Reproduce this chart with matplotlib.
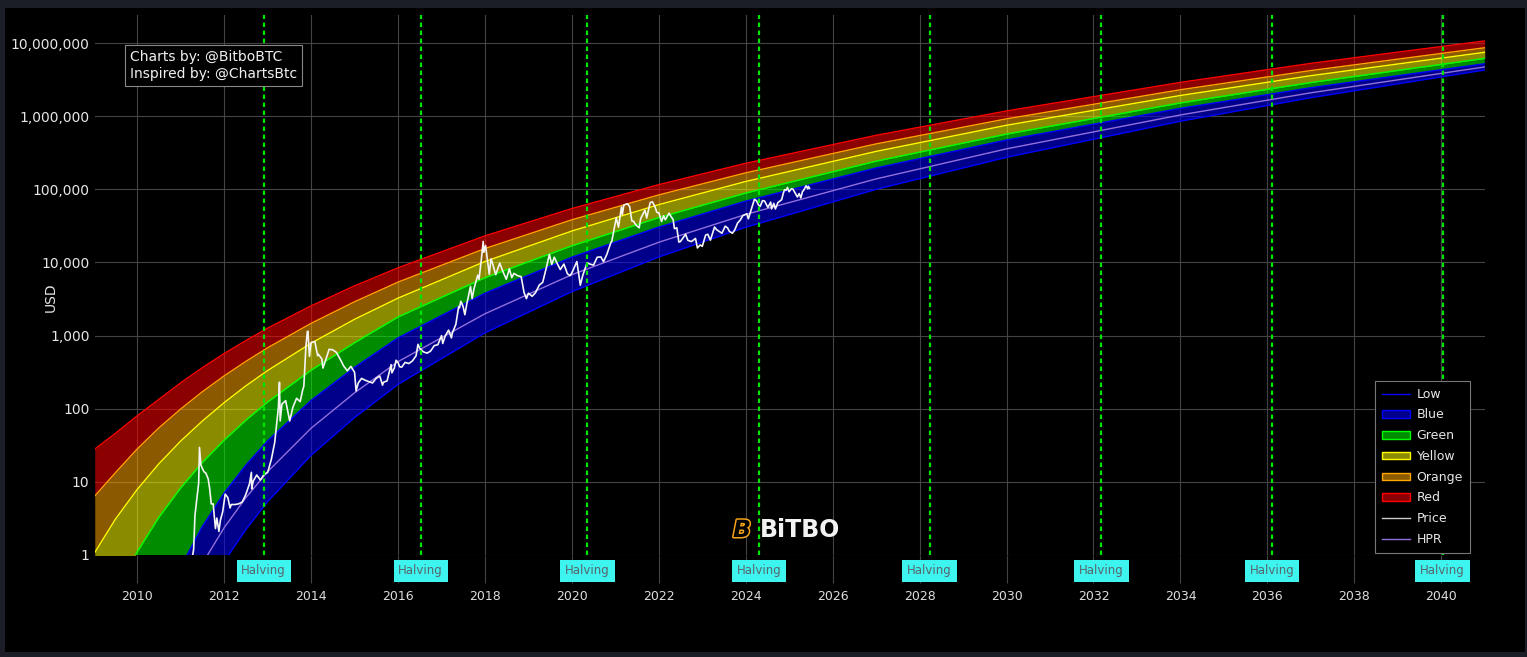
import matplotlib
matplotlib.use('Agg')
import matplotlib.pyplot as plt
import matplotlib.dates as mdates
import matplotlib.patheffects as pe
from matplotlib.lines import Line2D
from matplotlib.patches import Patch, Rectangle
from matplotlib.ticker import FuncFormatter, FixedLocator, NullLocator
from matplotlib.transforms import blended_transform_factory
import pandas as pd

# rainbow band edges (USD)
band_dates = ['2009-01-09', '2009-07-01', '2010-01-01', '2010-07-01', '2011-01-01',
              '2011-07-01', '2012-01-01', '2012-07-01', '2013-01-01', '2014-01-01',
              '2015-01-01', '2016-01-01', '2018-01-01', '2020-01-01', '2022-01-01',
              '2024-01-01', '2027-01-01', '2030-01-01', '2034-01-01', '2037-01-01',
              '2041-01-01']
low = [1.4e-15, 6.0e-6, 6.0e-4, 8.5e-3, 0.057, 0.243, 0.813, 2.22, 5.37, 23.1,
       75.7, 215, 1090, 3990, 11900, 30300, 100000, 274000, 853000, 1790000, 4280000]
blue = [8.7e-13, 2.29e-4, 0.0129, 0.130, 0.687, 2.44, 7.01, 16.9, 36.5, 130,
        368, 930, 3800, 11800, 30500, 69000, 196000, 473000, 1280000, 2450000, 5220000]
green = [0.0569, 0.288, 1.11, 3.27, 8.28, 18.4, 37.2, 69.7, 124, 337,
         800, 1800, 6200, 16900, 41200, 89100, 243000, 570000, 1520000, 2890000, 6180000]
yellow = [1.08, 3.08, 7.89, 17.6, 36.1, 67.6, 121, 205, 333, 787,
          1670, 3250, 10300, 26900, 61800, 128000, 330000, 752000, 1920000, 3580000, 7480000]
orange = [6.4, 13.3, 28.2, 54.5, 99.1, 170, 281, 443, 682, 1470,
          2900, 5380, 15500, 38300, 83900, 168000, 418000, 920000, 2300000, 4210000, 8630000]
red = [28.0, 46.0, 80.0, 134, 226, 363, 568, 853, 1265, 2550,
       4790, 8450, 23100, 54600, 116000, 227000, 548000, 1180000, 2900000, 5280000, 10700000]
hpr = [3.4e-14, 3.6e-5, 2.75e-3, 0.0327, 0.195, 0.759, 2.36, 6.05, 13.8, 54.2,
       165, 440, 1990, 6810, 18900, 45400, 139000, 358000, 1040000, 2090000, 4720000]

# bitcoin price history (USD)
price_dates = [
    '2010-07-17', '2010-10-01', '2010-11-06', '2010-12-01', '2011-01-01', '2011-02-10',
    '2011-03-01', '2011-04-01', '2011-04-20', '2011-05-01', '2011-05-20', '2011-06-01',
    '2011-06-08', '2011-06-20', '2011-07-01', '2011-07-15', '2011-08-01', '2011-08-20',
    '2011-09-01', '2011-09-15', '2011-10-01', '2011-10-20', '2011-11-01', '2011-11-18',
    '2011-12-01', '2011-12-20', '2012-01-01', '2012-01-10', '2012-02-01', '2012-02-20',
    '2012-03-01', '2012-04-01', '2012-05-01', '2012-06-01', '2012-07-01', '2012-08-01',
    '2012-08-17', '2012-08-20', '2012-09-01', '2012-10-01', '2012-11-01', '2012-12-01',
    '2013-01-01', '2013-02-01', '2013-03-01', '2013-04-01', '2013-04-10', '2013-04-16',
    '2013-05-01', '2013-06-01', '2013-07-05', '2013-08-01', '2013-09-01', '2013-10-01',
    '2013-10-20', '2013-11-01', '2013-11-18', '2013-11-30', '2013-12-05', '2013-12-18',
    '2014-01-01', '2014-02-01', '2014-02-25', '2014-03-01', '2014-04-01', '2014-04-10',
    '2014-05-01', '2014-06-01', '2014-07-01', '2014-08-01', '2014-09-01', '2014-10-01',
    '2014-11-01', '2014-12-01', '2015-01-01', '2015-01-14', '2015-02-01', '2015-03-01',
    '2015-04-01', '2015-05-01', '2015-06-01', '2015-07-01', '2015-08-01', '2015-08-24',
    '2015-09-01', '2015-10-01', '2015-11-04', '2015-11-11', '2015-12-01', '2015-12-16',
    '2016-01-01', '2016-01-15', '2016-02-01', '2016-03-01', '2016-04-01', '2016-05-01',
    '2016-06-01', '2016-06-17', '2016-07-01', '2016-08-01', '2016-09-01', '2016-10-01',
    '2016-11-01', '2016-12-01', '2017-01-01', '2017-01-11', '2017-02-01', '2017-03-01',
    '2017-03-25', '2017-04-01', '2017-05-01', '2017-05-25', '2017-06-01', '2017-06-12',
    '2017-07-01', '2017-07-16', '2017-08-01', '2017-09-01', '2017-09-15', '2017-10-01',
    '2017-11-01', '2017-11-12', '2017-12-01', '2017-12-17', '2017-12-22', '2018-01-06',
    '2018-02-06', '2018-02-20', '2018-03-01', '2018-04-01', '2018-05-05', '2018-06-01',
    '2018-06-29', '2018-07-25', '2018-08-14', '2018-09-01', '2018-10-01', '2018-11-01',
    '2018-11-25', '2018-12-15', '2019-01-01', '2019-02-01', '2019-03-01', '2019-04-02',
    '2019-05-01', '2019-06-01', '2019-06-26', '2019-07-16', '2019-08-06', '2019-09-01',
    '2019-09-26', '2019-10-26', '2019-11-25', '2019-12-17', '2020-01-01', '2020-02-12',
    '2020-03-12', '2020-04-01', '2020-05-08', '2020-06-01', '2020-07-01', '2020-08-01',
    '2020-09-01', '2020-09-23', '2020-10-21', '2020-11-25', '2020-12-01', '2021-01-08',
    '2021-01-27', '2021-02-21', '2021-02-28', '2021-03-13', '2021-04-13', '2021-05-01',
    '2021-05-19', '2021-06-01', '2021-06-22', '2021-07-20', '2021-08-01', '2021-09-06',
    '2021-09-21', '2021-10-20', '2021-11-08', '2021-12-01', '2021-12-15', '2022-01-01',
    '2022-01-24', '2022-02-10', '2022-02-24', '2022-03-28', '2022-04-01', '2022-05-01',
    '2022-05-12', '2022-06-01', '2022-06-18', '2022-07-01', '2022-08-14', '2022-09-01',
    '2022-10-01', '2022-11-05', '2022-11-21', '2022-12-15', '2023-01-01', '2023-01-29',
    '2023-02-16', '2023-03-10', '2023-04-14', '2023-05-01', '2023-06-15', '2023-07-13',
    '2023-08-01', '2023-08-17', '2023-09-11', '2023-10-01', '2023-10-24', '2023-11-15',
    '2023-12-08', '2024-01-11', '2024-01-23', '2024-02-15', '2024-03-14', '2024-04-01',
    '2024-04-17', '2024-05-01', '2024-05-21', '2024-06-07', '2024-07-05', '2024-07-29',
    '2024-08-05', '2024-08-24', '2024-09-06', '2024-09-27', '2024-10-29', '2024-11-12',
    '2024-11-22', '2024-12-05', '2024-12-17', '2024-12-30', '2025-01-20', '2025-02-01',
    '2025-02-28', '2025-03-10', '2025-03-25', '2025-04-08', '2025-04-22', '2025-05-01',
    '2025-05-22', '2025-06-05', '2025-06-10', '2025-06-20']
price_usd = [
    0.05, 0.06, 0.39, 0.21, 0.30, 0.95,
    0.90, 0.78, 1.2, 3.5, 6.5, 9.6,
    29.6, 17, 15.4, 13.8, 13.1, 11,
    8.2, 5.0, 5.0, 2.3, 3.2, 2.1,
    3.0, 3.9, 5.3, 6.8, 6.1, 4.4,
    4.9, 4.9, 5.0, 5.3, 6.7, 9.4,
    13.5, 8.0, 10.2, 12.4, 10.6, 12.6,
    13.5, 20.4, 34.5, 104, 230, 68,
    116, 129, 68, 105, 139, 125,
    175, 204, 700, 1130, 1150, 520,
    805, 830, 530, 560, 480, 360,
    450, 650, 640, 590, 480, 385,
    330, 380, 315, 175, 225, 260,
    245, 235, 225, 260, 280, 210,
    230, 240, 400, 310, 360, 460,
    430, 375, 370, 430, 415, 450,
    530, 760, 675, 600, 575, 615,
    730, 750, 1000, 780, 990, 1190,
    930, 1080, 1420, 2500, 2400, 2950,
    2500, 1930, 2700, 4700, 3200, 4400,
    6700, 5900, 10900, 19400, 13800, 17100,
    6900, 11200, 10300, 6800, 9800, 7500,
    5900, 8200, 6200, 7100, 6600, 6400,
    3900, 3200, 3800, 3450, 3850, 4900,
    5350, 8550, 12900, 9400, 11800, 9600,
    8000, 9500, 7000, 6600, 7200, 10300,
    4900, 6600, 9900, 9500, 9200, 11800,
    11900, 10250, 12900, 19000, 19300, 40700,
    30400, 57500, 45200, 61200, 63500, 57800,
    37000, 36700, 32500, 29800, 39800, 51800,
    40600, 66000, 67500, 57000, 48400, 47700,
    36300, 43500, 38300, 47100, 45800, 38500,
    29000, 29800, 19000, 19300, 24300, 20100,
    19300, 21300, 15800, 17400, 16600, 23700,
    24300, 20200, 30500, 28100, 25100, 31400,
    29700, 26600, 25100, 27900, 34500, 37800,
    43800, 46300, 39500, 51900, 73100, 69700,
    61300, 58300, 70100, 69300, 56700, 66800,
    54000, 64200, 53900, 65800, 72300, 88700,
    98900, 97000, 106100, 92700, 102000, 100600,
    84400, 78600, 87500, 76300, 93500, 96500,
    111700, 101500, 110000, 103300]

halving_dates = ['2012-11-28', '2016-07-09', '2020-05-11', '2024-04-20',
                 '2028-03-25', '2032-03-08', '2036-02-09', '2040-01-12']
y_ticks = [1, 10, 100, 1000, 10000, 100000, 1000000, 10000000]

W, H = 1527, 657
fig = plt.figure(figsize=(W / 100, H / 100), dpi=100, facecolor='#1b1e27')
fig.patches.append(Rectangle((5 / W, 5 / H), 1520 / W, 644 / H, transform=fig.transFigure,
                             facecolor='black', edgecolor='none', zorder=-1))
ax = fig.add_axes([95 / W, 102 / H, 1390 / W, 540 / H])
ax.set_facecolor('black')

bd = pd.to_datetime(band_dates)
pdts = pd.to_datetime(price_dates)

# bands: fill between lower and upper edge, line on the upper edge
layers = [(low, blue, '#0000ff'), (blue, green, '#00ff00'), (green, yellow, '#ffff00'),
          (yellow, orange, '#ffa500'), (orange, red, '#ff0000')]
ax.plot(bd, low, color='#0000ff', lw=1, zorder=3)
for lower, upper, col in layers:
    ax.fill_between(bd, lower, upper, color=col, alpha=0.55, lw=0, zorder=2)
    ax.plot(bd, upper, color=col, lw=1, zorder=3)
ax.plot(bd, hpr, color='#9370db', lw=1, zorder=4)
ax.plot(pdts, price_usd, color='#f4f4f4', lw=1.2, zorder=5)

# halving markers
tr = blended_transform_factory(ax.transData, ax.transAxes)
for hd in halving_dates:
    xd = mdates.date2num(pd.Timestamp(hd))
    ax.axvline(xd, color='#00e600', lw=1.6, ls=(0, (2.0, 1.6)), zorder=6)
    ax.text(xd, -0.0296, 'Halving', transform=tr, ha='center', va='center', fontsize=8.5,
            color='#56666c', clip_on=False, zorder=7,
            bbox=dict(boxstyle='square,pad=0.4', fc='#3ef4ef', ec='none'))

ax.set_yscale('log')
ax.set_ylim(1, 24.2e6)
ax.set_xlim(pd.Timestamp('2009-01-11'), pd.Timestamp('2041-01-03'))
ax.yaxis.set_major_locator(FixedLocator(y_ticks))
ax.yaxis.set_minor_locator(NullLocator())
ax.yaxis.set_major_formatter(FuncFormatter(lambda v, p: f'{v:,.0f}'))
ax.xaxis.set_major_locator(mdates.YearLocator(2))
ax.xaxis.set_major_formatter(mdates.DateFormatter('%Y'))

ax.grid(True, color='#444444', lw=0.8)
ax.set_axisbelow(True)
for s in ax.spines.values():
    s.set_visible(False)
ax.tick_params(axis='x', length=20, width=0.8, color='#444444', pad=5,
               labelsize=9, labelcolor='#dddddd')
ax.tick_params(axis='y', length=0, pad=4, labelsize=10, labelcolor='#e6e6e6')
ax.set_ylabel('USD', color='#e6e6e6', fontsize=10)
ax.yaxis.set_label_coords(-0.0266, 0.478)

ax.text(0.0252, 0.935, 'Charts by: @BitboBTC\nInspired by: @ChartsBtc', transform=ax.transAxes,
        ha='left', va='top', fontsize=10, color='#f0f0f0', linespacing=1.25, zorder=8,
        bbox=dict(boxstyle='square,pad=0.35', fc='black', ec='#888888', lw=0.8))

# logo
ax.text(0.4655, 0.0463, 'B', transform=ax.transAxes, ha='center', va='center', fontsize=17,
        fontweight='bold', style='italic', color='black', zorder=8,
        path_effects=[pe.withStroke(linewidth=2.2, foreground='#f5a31b')])
ax.text(0.4784, 0.0463, 'BiTBO', transform=ax.transAxes, ha='left', va='center', fontsize=17,
        fontweight='bold', color='#f2f2f2', zorder=8)

handles = [Line2D([], [], color='#0000ff', lw=1),
           Patch(facecolor=(0, 0, 0.55), edgecolor='#0000ff'),
           Patch(facecolor=(0, 0.55, 0), edgecolor='#00ff00'),
           Patch(facecolor=(0.55, 0.55, 0), edgecolor='#ffff00'),
           Patch(facecolor=(0.55, 0.36, 0), edgecolor='#ffa500'),
           Patch(facecolor=(0.55, 0, 0), edgecolor='#ff0000'),
           Line2D([], [], color='#cccccc', lw=1),
           Line2D([], [], color='#9370db', lw=1)]
labels = ['Low', 'Blue', 'Green', 'Yellow', 'Orange', 'Red', 'Price', 'HPR']
leg = ax.legend(handles, labels, loc='lower right', bbox_to_anchor=(0.9892, 0.004),
                frameon=True, fancybox=False, facecolor='black', edgecolor='#777777',
                framealpha=1, fontsize=9, labelcolor='#e6e6e6', handlelength=2.3,
                handleheight=0.55, handletextpad=0.5, labelspacing=0.62, borderpad=0.55,
                borderaxespad=0)
leg.get_frame().set_linewidth(0.8)
leg.set_zorder(9)

fig.savefig('out.png', dpi=100, facecolor=fig.get_facecolor())
